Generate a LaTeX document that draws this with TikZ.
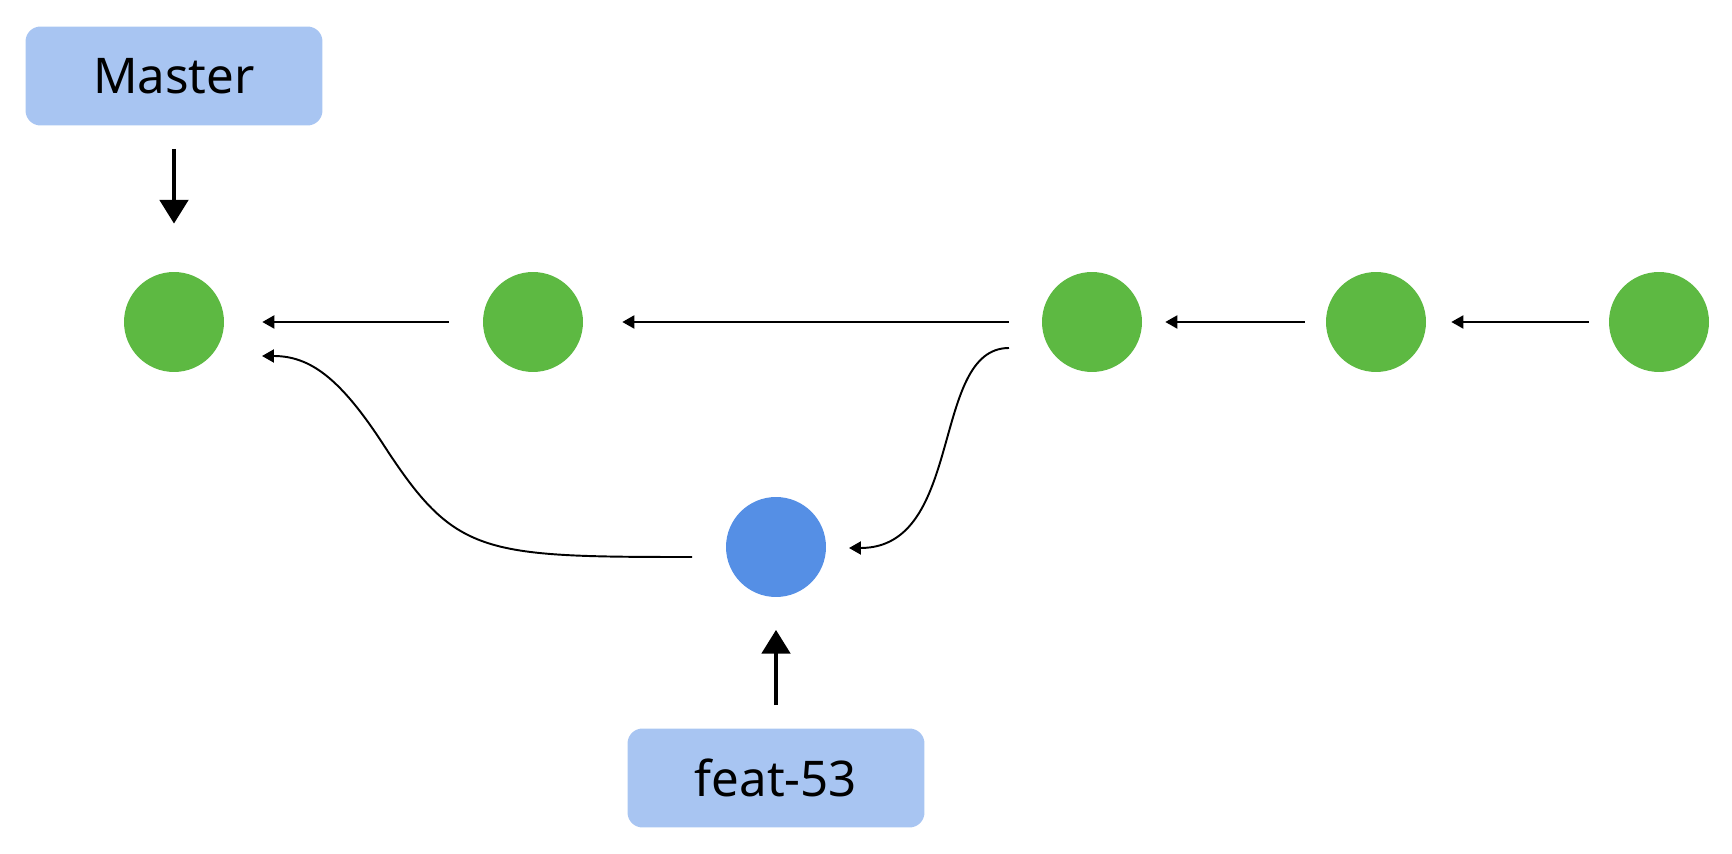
\documentclass[tikz,border=0pt]{standalone}
\usepackage{fontspec}
\setmainfont{Noto Sans}
\usetikzlibrary{arrows.meta}

\definecolor{commitgreen}{RGB}{93,185,66}
\definecolor{headblue}{RGB}{85,143,229}
\definecolor{labelblue}{RGB}{168,197,242}

\tikzset{
	commit/.style={circle,fill=commitgreen,minimum size=2cm,inner sep=0pt},
	headcommit/.style={commit,fill=headblue},
	branchlabel/.style={rectangle,rounded corners=0.3cm,fill=labelblue,minimum width=5.94cm,minimum height=1.98cm,font=\fontsize{28}{32}\selectfont},
	parent/.style={line width=1.1pt,-{Triangle[length=6.8pt,width=7.4pt]}},
	pointer/.style={line width=2.8pt,-{Triangle[length=13.6pt,width=16pt]},shorten <=0.46cm}
}

\begin{document}
\begin{tikzpicture}[x=0.02cm,y=-0.02cm]
	
	\useasboundingbox (0,0) rectangle (1732,854);
	
	% commits on master
	\node[commit] (c1) at (174,322) {};
	\node[commit] (c2) at (533,322) {};
	\node[commit] (c3) at (1092,322) {};
	\node[commit] (c4) at (1376,322) {};
	\node[commit] (c5) at (1659,322) {};
	
	% commit on the feature branch
	\node[headcommit] (fb) at (776,547) {};
	
	% branch labels
	\node[branchlabel] (master) at (174,76) {Master};
	\node[branchlabel] (feat) at (776,778) {feat-53};
	
	% parent links
	\draw[parent,shorten <=0.68cm,shorten >=0.76cm] (c2) -- (c1);
	\draw[parent,shorten <=0.66cm,shorten >=0.78cm] (c3) -- (c2);
	\draw[parent,shorten <=0.42cm,shorten >=0.46cm] (c4) -- (c3);
	\draw[parent,shorten <=0.40cm,shorten >=0.50cm] (c5) -- (c4);
	
	% links through the feature commit
	\draw[parent] ([shift={(-83,26)}]c3.center) .. controls (930,348) and (965,548) .. ([shift={(73,1)}]fb.center);
	\draw[parent] ([shift={(-84,10)}]fb.center) .. controls (480,557) and (455,555) .. (383,444)
		.. controls (340,378) and (310,356) .. ([shift={(88,34)}]c1.center);
	
	% branch pointers
	\draw[pointer,shorten >=0.96cm] (master) -- (c1);
	\draw[pointer,shorten >=0.65cm] (feat) -- (fb);

\end{tikzpicture}
\end{document}
